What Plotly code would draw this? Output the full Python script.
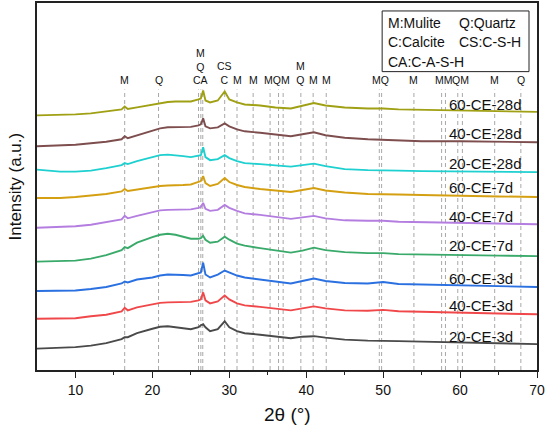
import plotly.graph_objects as go

# 2θ sample positions (degrees)
two_theta = [5, 8, 10, 12, 14, 16, 16.4, 16.8, 18, 20, 21, 22, 23, 24, 25, 26, 26.3, 26.6, 26.9, 27.5,
             28.5, 29.4, 30, 31, 32, 34, 36, 38, 39.5, 41, 42.5, 45, 48, 50, 52, 55, 60, 65, 70]

# Stacked intensities (a.u.)
s_20_3d = [21.5, 22, 23, 24.5, 27, 31, 33, 33, 37, 41.5, 43.5, 44, 43, 42, 41, 43, 45, 46, 43, 39,
           41, 49, 43, 39, 37, 35.5, 34, 32, 33.5, 34, 32.5, 30.5, 29.5, 29.5, 29, 28.5, 27.5, 26.5, 26]
s_40_3d = [51.5, 51.5, 52, 54, 55.5, 59, 62.5, 60, 63, 66, 67.5, 68, 68, 68, 68.5, 70, 71, 78, 70, 67,
           69, 75, 71, 67, 65, 63.5, 62, 60, 62, 64, 62, 60, 59.5, 60.5, 59, 58.5, 57.5, 56.5, 56]
s_60_3d = [79.5, 79.5, 80, 81.5, 83.5, 87, 89, 88, 91, 93, 95, 96, 96, 95.5, 95, 97, 98, 108, 96, 93,
           96, 100, 98, 95, 93, 91, 89, 87, 89.5, 92, 89.5, 87.5, 87, 88.5, 86.5, 86, 85, 84, 83.5]
s_20_7d = [109, 109.5, 110, 112, 115.5, 120.5, 123.5, 122.5, 128, 133.5, 136, 137, 136, 134, 132, 132, 132.5, 135, 131, 128,
           129, 134, 131, 127, 125, 122.5, 120.5, 118, 120, 123, 120.5, 118.5, 117.5, 117.5, 116.5, 116, 115.5, 115, 114.5]
s_40_7d = [143, 143.5, 144.5, 146, 148.5, 151.5, 155, 152.5, 155, 159, 160.5, 161, 161, 161, 161.5, 163, 164, 168, 162, 160,
           161, 166, 163, 160, 157.5, 156, 154, 152, 153.5, 155, 152.5, 150.5, 150, 150, 149, 148.5, 147.5, 147, 146.5]
s_60_7d = [173, 173, 174, 175.5, 177, 179.5, 182, 180, 181.5, 184, 185, 185.5, 185.5, 186, 186.5, 189, 190, 195, 188, 185,
           187, 193, 189, 186, 184, 182, 180.5, 179, 181, 183, 180.5, 178.5, 177, 177, 176.5, 176, 175, 174.5, 174]
s_20_28d = [201.5, 199.5, 199.5, 200.5, 203, 206, 208, 207, 210, 214, 216, 216.5, 216, 215, 214, 215, 216, 224, 214, 211,
            212, 216, 213, 210, 208, 207, 205.5, 204.5, 206, 207.5, 205, 202, 201, 201, 200.5, 200, 199.5, 199, 199]
s_40_28d = [225, 225.5, 226.5, 228, 229.5, 232, 235, 233, 236, 241, 243, 244, 244, 244, 244.5, 246, 247, 253, 245, 243,
            244, 248, 245, 242, 240, 238.5, 237, 235, 237, 239, 236, 233.5, 232, 231.5, 230.5, 230, 230, 229.5, 229]
s_60_28d = [256, 256.5, 257, 258, 260, 262, 265, 262.5, 264, 267, 268.5, 269.5, 270, 270, 270, 272, 273, 281, 271, 269,
            271, 280, 272, 269, 267, 266, 264, 263, 266, 268.5, 266, 264, 263, 263, 262, 261.5, 261, 260, 259.5]

series_names = ["20-CE-3d", "40-CE-3d", "60-CE-3d", "20-CE-7d", "40-CE-7d", "60-CE-7d",
                "20-CE-28d", "40-CE-28d", "60-CE-28d"]
series_values = [s_20_3d, s_40_3d, s_60_3d, s_20_7d, s_40_7d, s_60_7d, s_20_28d, s_40_28d, s_60_28d]
series_colors = ["#4a4a4a", "#f0484a", "#2a70e0", "#3aaa6a", "#b47ee0", "#d4a012",
                 "#1fd0d0", "#7e4e4e", "#a0a014"]
label_y = [34, 65, 92, 125, 154, 183, 208, 238, 267]

# Reference (phase) lines and their labels
ref_lines = [16.4, 20.8, 26.0, 26.3, 26.55, 29.4, 31.0, 33.1, 35.3, 36.4, 37.0, 39.3, 40.9, 42.6,
             49.5, 49.8, 54.0, 57.6, 58.1, 59.7, 60.3, 64.5, 67.9]
peak_label_x = [16.4, 20.8, 26.25, 29.4, 31.0, 33.1, 36.15, 39.3, 40.9, 42.6, 49.65, 54.0,
                57.85, 60.0, 64.5, 67.9]
peak_label_text = ["M", "Q", "M<br>Q<br>CA", "CS<br>C", "M", "M", "MQM", "M<br>Q", "M", "M",
                   "MQ", "M", "MM", "QM", "M", "Q"]

x_ticks = [10, 20, 30, 40, 50, 60, 70]

fig = go.Figure()

shapes = []
for xv in ref_lines:
    shapes.append(dict(type="line", xref="x", yref="y", x0=xv, x1=xv, y0=0, y1=282,
                       line=dict(color="#a8a8a8", width=1, dash="4px,3px"), layer="below"))
# legend box
shapes.append(dict(type="rect", xref="x", yref="y", x0=49.87, x1=68.96, y0=300, y1=361,
                   line=dict(color="#222", width=1), fillcolor="rgba(0,0,0,0)"))

for name, vals, col in zip(series_names, series_values, series_colors):
    fig.add_trace(go.Scatter(x=two_theta, y=vals, mode="lines", name=name,
                             line=dict(color=col, width=1.9), showlegend=False))

annotations = []
for name, ly in zip(series_names, label_y):
    annotations.append(dict(x=58.3, y=ly, xref="x", yref="y", text=name, showarrow=False,
                            xanchor="left", yanchor="middle",
                            font=dict(family="Arial, Liberation Sans", size=15, color="#111")))
for xv, t in zip(peak_label_x, peak_label_text):
    annotations.append(dict(x=xv, y=284, xref="x", yref="y", text=t, showarrow=False,
                            xanchor="center", yanchor="bottom",
                            font=dict(family="Arial, Liberation Sans", size=10.5, color="#111")))

legend_items = [(50.4, 349, "M:Mulite"), (59.6, 349, "Q:Quartz"),
                (50.4, 330, "C:Calcite"), (59.6, 330, "CS:C-S-H"),
                (50.4, 310, "CA:C-A-S-H")]
for lx, ly, t in legend_items:
    annotations.append(dict(x=lx, y=ly, xref="x", yref="y", text=t, showarrow=False,
                            xanchor="left", yanchor="middle",
                            font=dict(family="Arial, Liberation Sans", size=14, color="#111")))

annotations.append(dict(x=0.5, y=-0.122, xref="paper", yref="paper", text="2θ (°)", showarrow=False,
                        xanchor="center", yanchor="middle",
                        font=dict(family="Arial, Liberation Sans", size=19, color="#111")))
annotations.append(dict(x=-0.044, y=0.5, xref="paper", yref="paper", text="Intensity (a.u.)",
                        showarrow=False, textangle=-90, xanchor="center", yanchor="middle",
                        font=dict(family="Arial, Liberation Sans", size=17, color="#111")))

fig.update_layout(
    width=546, height=427,
    margin=dict(l=37, r=8, t=1, b=57),
    paper_bgcolor="white", plot_bgcolor="white",
    shapes=shapes, annotations=annotations,
    showlegend=False,
)
fig.update_xaxes(range=[5, 70], tickvals=x_ticks, ticks="outside", ticklen=6, tickwidth=1.2,
                 tickcolor="#222", showline=True, linecolor="#222", linewidth=1.5, mirror=True,
                 showgrid=False, zeroline=False,
                 tickfont=dict(family="Arial, Liberation Sans", size=14, color="#111"),
                 minor=dict(tickvals=[15, 25, 35, 45, 55, 65], ticks="outside", ticklen=3,
                            tickcolor="#222", tickwidth=1.2))
fig.update_yaxes(range=[0, 369], showticklabels=False, ticks="", showline=True, linecolor="#222",
                 linewidth=1.5, mirror=True, showgrid=False, zeroline=False)

fig.write_html("out.html")
